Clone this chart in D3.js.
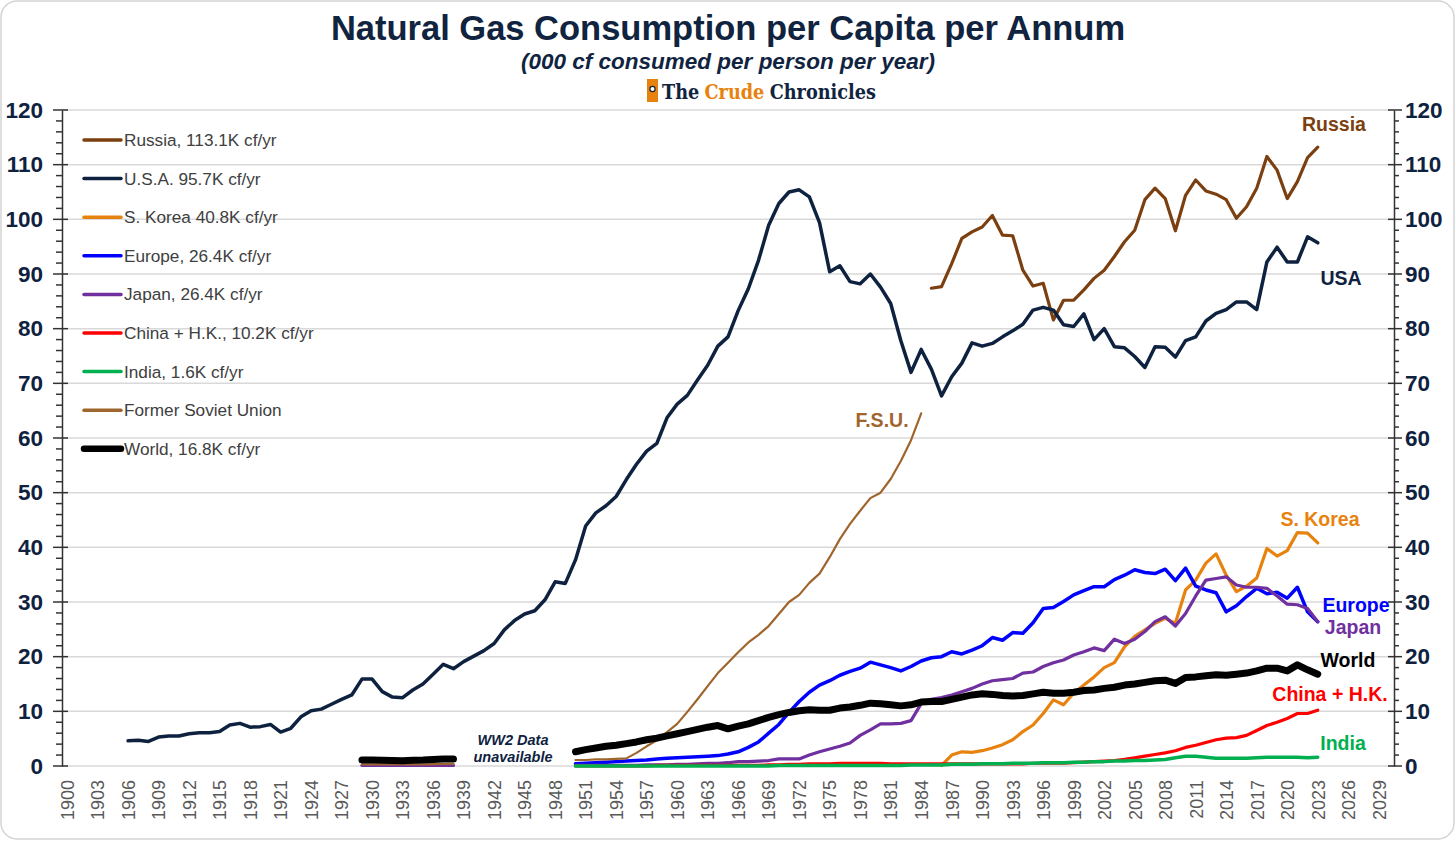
<!DOCTYPE html>
<html>
<head>
<meta charset="utf-8">
<script src="https://cdn.jsdelivr.net/npm/d3@7/dist/d3.min.js"></script>
<style>
  body { margin: 0; background: #ffffff; }
  svg { display: block; font-family: "Liberation Sans", Arial, sans-serif; }
</style>
</head>
<body>
<svg id="chart" width="1456" height="841"></svg>
<script>
// ---------------- DATA ----------------
const xTickYears = d3.range(1900, 2030, 3);
const yTickValues = [0, 10, 20, 30, 40, 50, 60, 70, 80, 90, 100, 110, 120];

const russiaStart = 1985;
const russiaValues = [87.4, 87.7, 91.9, 96.5, 97.7, 98.6, 100.7, 97.1, 97.0, 90.7,
  87.8, 88.3, 81.6, 85.2, 85.2, 87.1, 89.2, 90.7, 93.2, 95.9,
  98.0, 103.6, 105.7, 103.8, 97.9, 104.4, 107.2, 105.2, 104.6, 103.6,
  100.2, 102.3, 105.7, 111.5, 109.0, 103.8, 106.9, 111.3, 113.2];

const usaStart = 1906;
const usaValues = [4.6, 4.7, 4.5, 5.3,
  5.5, 5.5, 5.9, 6.1, 6.1, 6.3, 7.5, 7.8, 7.1, 7.2,
  7.6, 6.2, 6.9, 9.0, 10.1, 10.4, 11.3, 12.2, 13.0, 15.9,
  15.9, 13.6, 12.6, 12.5, 13.9, 15.0, 16.8, 18.6, 17.8, 19.1,
  20.1, 21.1, 22.4, 24.9, 26.6, 27.8, 28.4, 30.4, 33.7, 33.4,
  37.7, 43.9, 46.3, 47.6, 49.3, 52.4, 55.2, 57.6, 59.0, 63.7,
  66.2, 67.8, 70.6, 73.3, 76.8, 78.5, 83.3, 87.3, 92.5, 98.9,
  102.9, 105.0, 105.4, 104.1, 99.4, 90.4, 91.5, 88.6, 88.2, 90.0,
  87.6, 84.6, 77.8, 72.0, 76.2, 72.6, 67.7, 71.2, 73.7, 77.4,
  76.8, 77.3, 78.5, 79.6, 80.8, 83.4, 83.9, 83.4, 80.7, 80.4,
  82.7, 78.0, 80.0, 76.7, 76.5, 74.9, 72.9, 76.7, 76.6, 74.8,
  77.8, 78.5, 81.4, 82.8, 83.5, 84.9, 84.9, 83.5, 92.2, 94.9,
  92.2, 92.2, 96.8, 95.7];

const koreaStart = 1986;
const koreaValues = [0.1, 2.0, 2.6, 2.5,
  2.8, 3.3, 3.9, 4.8, 6.3, 7.5, 9.6, 12.1, 11.2, 13.3,
  14.8, 16.3, 18.0, 18.9, 21.8, 23.7, 24.9, 26.1, 27.0, 26.1,
  32.2, 34.0, 37.1, 38.8, 34.9, 31.9, 32.9, 34.4, 39.8, 38.4,
  39.4, 42.7, 42.6, 40.8];

const postWarStart = 1950;
const europeValues = [0.4, 0.5, 0.6, 0.7, 0.8, 0.9, 1.0, 1.1, 1.3, 1.4,
  1.5, 1.6, 1.7, 1.8, 1.9, 2.2, 2.6, 3.4, 4.4, 6.0,
  7.6, 9.8, 11.8, 13.5, 14.8, 15.6, 16.6, 17.3, 17.9, 19.0,
  18.5, 18.0, 17.4, 18.2, 19.2, 19.8, 20.0, 20.9, 20.5, 21.2,
  22.0, 23.5, 23.0, 24.4, 24.3, 26.2, 28.8, 29.0, 30.1, 31.3,
  32.1, 32.8, 32.8, 34.1, 34.9, 35.9, 35.4, 35.2, 36.0, 33.9,
  36.2, 32.9, 32.2, 31.7, 28.2, 29.3, 31.0, 32.5, 31.5, 31.8,
  30.7, 32.7, 28.2, 26.4];

const japanValues = [0.1, 0.1, 0.1, 0.1, 0.1, 0.1, 0.1, 0.2, 0.2, 0.2,
  0.3, 0.3, 0.4, 0.5, 0.5, 0.6, 0.8, 0.8, 0.9, 1.0,
  1.3, 1.3, 1.3, 2.0, 2.6, 3.1, 3.6, 4.2, 5.6, 6.6,
  7.7, 7.7, 7.8, 8.3, 11.4, 12.2, 12.5, 13.0, 13.6, 14.2,
  15.0, 15.6, 15.8, 16.0, 17.0, 17.2, 18.2, 18.9, 19.4, 20.3,
  20.9, 21.6, 21.1, 23.2, 22.4, 23.2, 24.6, 26.4, 27.3, 25.6,
  27.9, 31.1, 34.0, 34.3, 34.6, 33.1, 32.7, 32.7, 32.5, 31.1,
  29.6, 29.5, 28.8, 26.4];

const chinaValues = [0.0, 0.0, 0.0, 0.0, 0.0, 0.0, 0.0, 0.0, 0.1, 0.1,
  0.1, 0.1, 0.1, 0.1, 0.1, 0.1, 0.1, 0.1, 0.1, 0.2,
  0.2, 0.3, 0.3, 0.4, 0.4, 0.4, 0.5, 0.5, 0.5, 0.5,
  0.5, 0.4, 0.4, 0.4, 0.4, 0.4, 0.4, 0.4, 0.4, 0.4,
  0.4, 0.4, 0.4, 0.4, 0.4, 0.5, 0.5, 0.5, 0.5, 0.6,
  0.7, 0.8, 0.9, 1.0, 1.2, 1.5, 1.8, 2.1, 2.4, 2.8,
  3.4, 3.8, 4.3, 4.8, 5.1, 5.2, 5.6, 6.5, 7.4, 8.0,
  8.7, 9.6, 9.6, 10.2];

const indiaValues = [0.0, 0.0, 0.0, 0.0, 0.0, 0.0, 0.0, 0.0, 0.0, 0.0,
  0.0, 0.0, 0.0, 0.0, 0.0, 0.0, 0.0, 0.0, 0.0, 0.0,
  0.1, 0.1, 0.1, 0.1, 0.1, 0.1, 0.1, 0.1, 0.1, 0.1,
  0.1, 0.1, 0.1, 0.2, 0.2, 0.2, 0.2, 0.3, 0.3, 0.3,
  0.4, 0.4, 0.4, 0.5, 0.5, 0.5, 0.6, 0.6, 0.6, 0.7,
  0.7, 0.8, 0.8, 0.9, 0.9, 1.0, 1.0, 1.1, 1.2, 1.5,
  1.8, 1.8, 1.6, 1.4, 1.4, 1.4, 1.4, 1.5, 1.6, 1.6,
  1.6, 1.6, 1.5, 1.6];

const fsuValues = [1.1, 1.1, 1.2, 1.2, 1.3, 1.4, 2.4, 3.6, 4.7, 6.2,
  7.7, 9.9, 12.2, 14.6, 17.0, 18.9, 20.8, 22.6, 24.0, 25.6,
  27.8, 30.0, 31.3, 33.5, 35.2, 38.2, 41.5, 44.3, 46.7, 49.0,
  50.0, 52.5, 55.8, 59.6, 64.5];

const worldValues = [2.6, 3.0, 3.3, 3.6, 3.8, 4.1, 4.4, 4.8, 5.1, 5.5,
  5.9, 6.3, 6.7, 7.1, 7.4, 6.8, 7.3, 7.7, 8.3, 8.9,
  9.4, 9.8, 10.1, 10.3, 10.2, 10.2, 10.6, 10.8, 11.1, 11.5,
  11.4, 11.2, 11.0, 11.2, 11.7, 11.8, 11.8, 12.2, 12.6, 13.0,
  13.2, 13.1, 12.9, 12.8, 12.9, 13.2, 13.5, 13.3, 13.3, 13.5,
  13.8, 13.9, 14.2, 14.4, 14.8, 15.0, 15.3, 15.6, 15.7, 15.1,
  16.2, 16.3, 16.5, 16.7, 16.6, 16.8, 17.0, 17.4, 17.9, 17.9,
  17.4, 18.5, 17.6, 16.8];

const preWarStart = 1929;
const worldPreWar = [1.1, 1.1, 1.05, 1.0, 0.95, 1.05, 1.1, 1.2, 1.3, 1.3];
const fsuPreWar   = [0.3, 0.3, 0.3, 0.3, 0.3, 0.3, 0.3, 0.35, 0.4, 0.4];
const japanPreWar = [0.1, 0.1, 0.1, 0.1, 0.1, 0.1, 0.1, 0.1, 0.1, 0.1];

const legendLabels = ["Russia, 113.1K cf/yr", "U.S.A. 95.7K cf/yr", "S. Korea 40.8K cf/yr",
  "Europe, 26.4K cf/yr", "Japan, 26.4K cf/yr", "China + H.K., 10.2K cf/yr",
  "India, 1.6K cf/yr", "Former Soviet Union", "World, 16.8K cf/yr"];
const seriesColors = ["#7B3F10", "#0E2240", "#E8820E", "#0000FF", "#7030A0",
  "#FF0000", "#00B050", "#A0652D", "#000000"];
const seriesWidths = [3.2, 3.5, 3.2, 3.5, 3.2, 3.2, 3.5, 2.2, 7];

const logoParts = ["The", "Crude", "Chronicles"];
const logoColors = ["#10233F", "#E8820E", "#10233F"];

// ---------------- BUILD ----------------
function pts(start, vals) { return vals.map((v, i) => ({ year: start + i, value: v })); }

const series = [
  { key: "russia", segs: [pts(russiaStart, russiaValues)] },
  { key: "usa", segs: [pts(usaStart, usaValues)] },
  { key: "korea", segs: [pts(koreaStart, koreaValues)] },
  { key: "europe", segs: [pts(postWarStart, europeValues)] },
  { key: "japan", segs: [pts(preWarStart, japanPreWar), pts(postWarStart, japanValues)] },
  { key: "china", segs: [pts(postWarStart, chinaValues)] },
  { key: "india", segs: [pts(postWarStart, indiaValues)] },
  { key: "fsu", segs: [pts(preWarStart, fsuPreWar), pts(postWarStart, fsuValues)] },
  { key: "world", segs: [pts(preWarStart, worldPreWar), pts(postWarStart, worldValues)] }
];

const svg = d3.select("#chart");
const W = 1456, H = 841;
const plotL = 62, plotR = 1394, plotT = 110, plotB = 766;

// frame
svg.append("rect").attr("x", 1).attr("y", 1).attr("width", W - 3).attr("height", H - 3)
  .attr("rx", 16).attr("fill", "#fff").attr("stroke", "#d4d4d4").attr("stroke-width", 1.5);

const x = d3.scaleLinear().domain([1899.5, 2030.5]).range([plotL, plotR]);
const y = d3.scaleLinear().domain([0, 120]).range([plotB, plotT]);

// gridlines
svg.append("g").selectAll("line").data(yTickValues).join("line")
  .attr("x1", plotL).attr("x2", plotR)
  .attr("y1", d => y(d)).attr("y2", d => y(d))
  .attr("stroke", "#d9d9d9").attr("stroke-width", 1.5);

// left axis
const minorTicks = d3.range(0, 121, 2).filter(d => d % 10 !== 0);
const navy = "#0E2240";
const axL = svg.append("g").attr("transform", `translate(${plotL},0)`);
axL.call(d3.axisLeft(y).tickValues(yTickValues).tickSize(0).tickPadding(19).tickFormat(d3.format("d")));
axL.select(".domain").attr("stroke", "#333").attr("stroke-width", 1.5);
axL.selectAll("text").attr("font-size", 22.5).attr("font-weight", "bold").attr("fill", navy)
  .attr("font-family", "Liberation Sans, Arial, sans-serif");
axL.selectAll(".majorT").data(yTickValues).join("line").attr("class", "majorT")
  .attr("x1", -9).attr("x2", 6).attr("y1", d => y(d)).attr("y2", d => y(d))
  .attr("stroke", "#333").attr("stroke-width", 1.5);
axL.selectAll(".minorT").data(minorTicks).join("line").attr("class", "minorT")
  .attr("x1", -6).attr("x2", 0).attr("y1", d => y(d)).attr("y2", d => y(d))
  .attr("stroke", "#333").attr("stroke-width", 1.5);

// right axis
const axR = svg.append("g").attr("transform", `translate(${plotR},0)`);
axR.call(d3.axisRight(y).tickValues(yTickValues).tickSize(0).tickPadding(11).tickFormat(d3.format("d")));
axR.select(".domain").attr("stroke", "#333").attr("stroke-width", 1.5);
axR.selectAll("text").attr("font-size", 22.5).attr("font-weight", "bold").attr("fill", navy)
  .attr("font-family", "Liberation Sans, Arial, sans-serif");
axR.selectAll(".majorT").data(yTickValues).join("line").attr("class", "majorT")
  .attr("x1", -6).attr("x2", 8).attr("y1", d => y(d)).attr("y2", d => y(d))
  .attr("stroke", "#333").attr("stroke-width", 1.5);
axR.selectAll(".minorT").data(minorTicks).join("line").attr("class", "minorT")
  .attr("x1", 0).attr("x2", 5).attr("y1", d => y(d)).attr("y2", d => y(d))
  .attr("stroke", "#333").attr("stroke-width", 1.5);

// bottom axis (labels only)
const axB = svg.append("g").attr("transform", `translate(0,${plotB})`);
axB.call(d3.axisBottom(x).tickValues(xTickYears).tickSize(0).tickFormat(d3.format("d")));
axB.select(".domain").remove();
axB.selectAll("text")
  .attr("transform", "rotate(-90)")
  .attr("text-anchor", "end")
  .attr("x", -14).attr("y", 0).attr("dy", "0.35em")
  .attr("font-size", 18).attr("fill", "#595959")
  .attr("font-family", "Liberation Sans, Arial, sans-serif");

// lines
const line = d3.line().x(d => x(d.year)).y(d => y(d.value)).curve(d3.curveLinear);
const gLines = svg.append("g");
series.forEach((s, i) => {
  s.segs.forEach(seg => {
    gLines.append("path").datum(seg).attr("d", line)
      .attr("fill", "none").attr("stroke", seriesColors[i])
      .attr("stroke-width", seriesWidths[i])
      .attr("stroke-linejoin", "round").attr("stroke-linecap", "round");
  });
});

// legend
const lg = svg.append("g");
legendLabels.forEach((lab, i) => {
  const ly = 140 + i * 38.6;
  lg.append("line").attr("x1", 84).attr("x2", 121).attr("y1", ly).attr("y2", ly)
    .attr("stroke", seriesColors[i]).attr("stroke-width", i === 8 ? 6.5 : 3.5)
    .attr("stroke-linecap", "round");
  lg.append("text").attr("x", 124).attr("y", ly).attr("dy", "0.35em")
    .attr("font-size", 17.2).attr("fill", "#404040").text(lab);
});

// series end labels
const endLabels = [
  { t: "Russia", x: 1334, y: 124, c: seriesColors[0] },
  { t: "USA", x: 1341, y: 278, c: seriesColors[1] },
  { t: "S. Korea", x: 1320, y: 519, c: seriesColors[2] },
  { t: "Europe", x: 1356, y: 605, c: seriesColors[3] },
  { t: "Japan", x: 1353, y: 627, c: seriesColors[4] },
  { t: "World", x: 1348, y: 660, c: seriesColors[8] },
  { t: "China + H.K.", x: 1330, y: 694, c: seriesColors[5] },
  { t: "India", x: 1343, y: 743, c: seriesColors[6] },
  { t: "F.S.U.", x: 882, y: 420, c: seriesColors[7] }
];
svg.append("g").selectAll("text").data(endLabels).join("text")
  .attr("x", d => d.x).attr("y", d => d.y).attr("dy", "0.35em")
  .attr("text-anchor", "middle").attr("font-size", 19.5).attr("font-weight", "bold")
  .attr("fill", d => d.c).text(d => d.t);

// WW2 note
const ww = svg.append("g").attr("font-size", 14.5).attr("font-weight", "bold")
  .attr("font-style", "italic").attr("fill", navy).attr("text-anchor", "middle");
ww.append("text").attr("x", 513).attr("y", 745).text("WW2 Data");
ww.append("text").attr("x", 513).attr("y", 762).text("unavailable");

// titles
svg.append("text").attr("x", 728).attr("y", 40).attr("text-anchor", "middle")
  .attr("font-size", 34.5).attr("font-weight", "bold").attr("fill", "#10233F")
  .text("Natural Gas Consumption per Capita per Annum");
svg.append("text").attr("x", 728).attr("y", 69).attr("text-anchor", "middle")
  .attr("font-size", 22.5).attr("font-weight", "bold").attr("font-style", "italic")
  .attr("fill", "#10233F").text("(000 cf consumed per person per year)");

// logo: icon + three words placed one after another, then squeezed to the reference width
svg.append("rect").attr("x", 647).attr("y", 79).attr("width", 11).attr("height", 23)
  .attr("fill", "#E8820E");
svg.append("circle").attr("cx", 652.5).attr("cy", 89).attr("r", 2.6)
  .attr("fill", "#fff").attr("stroke", "#10233F").attr("stroke-width", 1.2);
const logoG = svg.append("g");
const logoInner = logoG.append("g");
let cursor = 0;
const spaceW = 6;
logoParts.forEach((word, i) => {
  const t = logoInner.append("text").attr("x", cursor).attr("y", 0)
    .attr("font-family", "DejaVu Serif, serif").attr("font-weight", "bold")
    .attr("font-size", 20).attr("fill", logoColors[i]).text(word);
  cursor += t.node().getComputedTextLength() + spaceW;
});
const naturalW = cursor - spaceW;
const sx = 214 / naturalW;
logoG.attr("transform", `translate(662,99) scale(${sx},1)`);
</script>
</body>
</html>
